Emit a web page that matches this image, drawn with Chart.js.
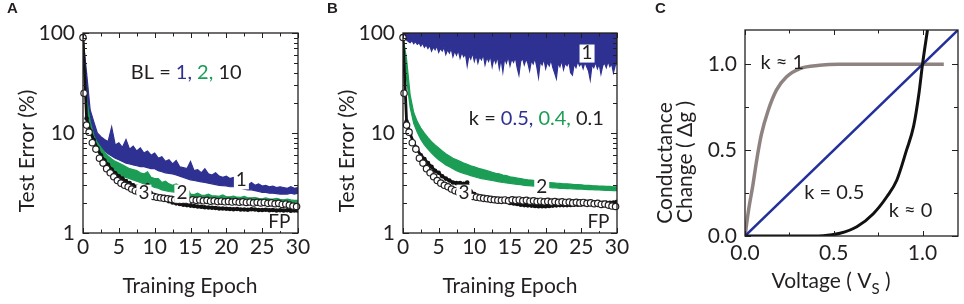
<!DOCTYPE html>
<html>
<head>
<meta charset="utf-8">
<script src="https://cdn.jsdelivr.net/npm/chart.js@4.4.1/dist/chart.umd.min.js"></script>
<style>
	body { margin: 0; background: #fff; width: 964px; height: 304px; position: relative; overflow: hidden; }
	.panel { position: absolute; top: 0; height: 304px; }
	#panelA { left: 0; width: 320px; }
	#panelB { left: 320px; width: 320px; }
	#panelC { left: 640px; width: 324px; }
</style>
</head>
<body>
<div class="panel" id="panelA"><canvas id="chartA" width="320" height="304"></canvas></div>
<div class="panel" id="panelB"><canvas id="chartB" width="320" height="304"></canvas></div>
<div class="panel" id="panelC"><canvas id="chartC" width="324" height="304"></canvas></div>
<script>
// ---- data ----
// epochs sampled every half epoch (0..30), fine grid every quarter epoch
const EPOCHS = Array.from({ length: 61 }, (_, i) => i / 2);
const EPOCHS_FINE = Array.from({ length: 121 }, (_, i) => i / 4);
const FP_EPOCHS = [0, 0.15, 0.5, 0.85].concat(Array.from({ length: 58 }, (_, i) => 1.3 + i / 2));

// floating point baseline (open circles), same in A and B
const FP_ERROR = [90, 25, 12, 10.2,
	8.0, 6.9, 5.6, 5.0, 4.4, 4.0, 3.65, 3.35, 3.15, 3.0,
	2.9, 2.75, 2.65, 2.55, 2.5, 2.42, 2.38, 2.32, 2.28, 2.25,
	2.22, 2.2, 2.17, 2.15, 2.13, 2.12, 2.14, 2.1, 2.15, 2.12,
	2.14, 2.1, 2.12, 2.08, 2.1, 2.06, 2.08, 2.05, 2.07, 2.04,
	2.06, 2.03, 2.05, 2.02, 2.04, 2.0, 2.03, 2.0, 2.02, 1.98,
	2.0, 1.96, 1.98, 1.93, 1.95, 1.9, 1.86, 1.84];

// panel A : BL = 1 (band), BL = 2 (band), BL = 10
const A_BL1_HI = [90, 40, 17, 13, 10, 9.2, 8.6, 8.2, 11.5, 7.6,
	8.0, 7.2, 8.6, 6.9, 7.4, 6.6, 7.1, 6.3, 6.6, 6.0,
	6.3, 5.6, 5.8, 5.2, 5.4, 4.9, 5.3, 4.6, 4.5, 4.4,
	5.2, 4.2, 4.3, 4.0, 4.4, 3.9, 3.8, 4.0, 3.7, 3.6,
	3.7, 3.5, 3.6, 3.4, 3.3, 3.0, 3.0, 3.2, 3.0, 3.1,
	2.95, 3.0, 2.9, 2.95, 2.85, 2.9, 2.85, 2.8, 2.9, 2.8,
	2.85];
const A_BL1_LO = [90, 25, 12, 9.5, 8.0, 7.2, 6.6, 6.2, 5.9, 5.6,
	5.4, 5.2, 5.0, 4.9, 4.8, 4.7, 4.6, 4.6, 4.5, 4.4,
	4.4, 4.2, 4.1, 4.0, 3.95, 3.9, 3.8, 3.7, 3.6, 3.5,
	3.4, 3.35, 3.3, 3.25, 3.2, 3.15, 3.1, 3.05, 3.0, 2.98,
	2.95, 2.9, 2.9, 2.85, 2.8, 2.75, 2.7, 2.7, 2.65, 2.6,
	2.55, 2.55, 2.5, 2.5, 2.48, 2.45, 2.45, 2.45, 2.5, 2.45,
	2.5];
const A_BL2_HI = [90, 22, 13, 9.5, 8.0, 7.2, 6.4, 5.9, 5.5, 5.2,
	5.0, 4.8, 4.6, 4.4, 4.3, 4.2, 4.0, 3.9, 4.1, 3.6,
	3.5, 3.5, 3.2, 3.3, 3.1, 3.0, 3.1, 2.95, 2.95, 2.9,
	2.45, 2.42, 2.5, 2.4, 2.38, 2.45, 2.35, 2.35, 2.33, 2.4,
	2.3, 2.3, 2.34, 2.28, 2.27, 2.32, 2.25, 2.25, 2.26, 2.22,
	2.2, 2.24, 2.2, 2.18, 2.22, 2.17, 2.15, 2.18, 2.14, 2.12,
	2.12];
const A_BL2_LO = [90, 15, 10, 7.8, 6.6, 5.8, 5.2, 4.8, 4.4, 4.1,
	3.9, 3.7, 3.6, 3.5, 3.4, 3.3, 3.2, 3.1, 3.0, 2.95,
	2.85, 2.8, 2.7, 2.65, 2.6, 2.58, 2.55, 2.52, 2.5, 2.48,
	2.25, 2.22, 2.2, 2.2, 2.19, 2.18, 2.17, 2.17, 2.16, 2.15,
	2.15, 2.14, 2.13, 2.12, 2.12, 2.11, 2.1, 2.1, 2.09, 2.08,
	2.08, 2.07, 2.06, 2.06, 2.05, 2.05, 2.04, 2.03, 2.03, 2.02,
	2.02];
const A_BL10 = [90, 14, 10.5, 8.5, 7.0, 6.0, 5.3, 4.8, 4.3, 3.95,
	3.7, 3.5, 3.3, 3.15, 3.0, 2.9, 2.8, 2.7, 3.0, 2.5,
	2.4, 2.3, 2.22, 2.15, 2.08, 2.02, 1.98, 1.95, 1.92, 1.9,
	1.88, 1.86, 1.84, 1.83, 1.81, 1.8, 1.79, 1.78, 1.76, 1.76,
	1.75, 1.74, 1.73, 1.74, 1.72, 1.72, 1.71, 1.73, 1.72, 1.7,
	1.7, 1.71, 1.69, 1.7, 1.68, 1.69, 1.68, 1.69, 1.67, 1.68,
	1.67];

// panel B : k = 0.5 (lower edge of band, quarter epochs), k = 0.4 (band), k = 0.1
const B_K05_LO = [
	92, 88, 85, 82,  80, 84, 78, 82,  77, 80, 74, 79,  72, 76, 70, 75,
	66, 72, 68, 74,  64, 70, 66, 72,  61, 68, 63, 70,  58, 66, 60, 67,
	56, 64, 58, 62,  47, 60, 55, 63,  52, 60, 50, 58,  54, 61, 48, 57,
	52, 59, 46, 56,  50, 58, 44, 55,  41, 56, 50, 58,  47, 55, 51, 57,
	45, 38, 52, 56,  48, 55, 50, 42,  53, 49, 56, 46,  36, 52, 48, 55,
	44, 51, 47, 54,  45, 40, 35, 50,  46, 53, 43, 50,  47, 52, 40, 38,
	49, 45, 52, 47,  50, 44, 51, 46,  42, 34, 48, 45,  51, 44, 49, 39,
	47, 50, 45, 52,  46, 49, 40, 47,  50];
const B_K04_HI = [92, 55, 24, 16, 13, 11.2, 10, 9.0, 8.2, 7.6,
	7.1, 6.6, 6.2, 5.9, 5.6, 5.4, 5.2, 5.0, 4.85, 4.7,
	4.6, 4.45, 4.35, 4.25, 4.15, 4.05, 3.95, 3.9, 3.8, 3.75,
	3.65, 3.6, 3.55, 3.5, 3.45, 3.4, 3.38, 3.35, 3.3, 3.25,
	3.22, 3.2, 3.18, 3.15, 3.13, 3.1, 3.1, 3.08, 3.05, 3.05,
	3.03, 3.0, 3.0, 2.98, 2.97, 2.95, 2.95, 2.93, 2.92, 2.9,
	2.9];
const B_K04_LO = [88, 35, 18, 12.5, 10.2, 8.6, 7.6, 6.9, 6.3, 5.8,
	5.4, 5.1, 4.8, 4.6, 4.4, 4.2, 4.05, 3.95, 3.85, 3.75,
	3.65, 3.57, 3.5, 3.45, 3.4, 3.35, 3.3, 3.25, 3.2, 3.17,
	3.13, 3.1, 3.07, 3.04, 3.0, 2.98, 2.96, 2.94, 2.92, 2.9,
	2.87, 2.85, 2.83, 2.82, 2.8, 2.79, 2.78, 2.77, 2.76, 2.75,
	2.75, 2.73, 2.72, 2.71, 2.7, 2.69, 2.68, 2.67, 2.66, 2.65,
	2.65];
const B_K01 = [90, 13, 9.8, 8.0, 6.8, 6.0, 5.5, 5.0, 4.6, 4.2,
	4.0, 3.7, 3.5, 3.35, 3.2, 3.15, 3.15, 3.1, 3.2, 2.6,
	2.45, 2.35, 2.3, 2.25, 2.2, 2.17, 2.15, 2.12, 2.1, 2.05,
	2.0, 1.97, 1.95, 1.92, 1.9, 1.89, 1.88, 1.86, 1.85, 1.85,
	1.85, 1.86, 1.88, 1.89, 1.9, 1.9, 1.9, 1.91, 1.92, 1.92,
	1.93, 1.94, 1.95, 1.96, 1.97, 1.98, 2.0, 2.0, 2.0, 2.02,
	2.05];

// panel C : conductance change vs voltage
const C_K1_V = [0, 0.02, 0.045, 0.064, 0.092, 0.13, 0.177, 0.233, 0.31, 0.42, 0.53, 1.12];
const C_K1_G = [0, 0.15, 0.30, 0.43, 0.59, 0.73, 0.85, 0.926, 0.975, 0.994, 1.0, 1.0];
const C_K05_V = [0, 1.2];
const C_K05_G = [0, 1.2];
const C_K0_V = [0, 0.3, 0.44, 0.535, 0.63, 0.723, 0.8, 0.855, 0.91, 0.95, 0.98, 1.0, 1.028];
const C_K0_G = [0, 0, 0.002, 0.016, 0.054, 0.13, 0.23, 0.325, 0.5, 0.64, 0.83, 1.0, 1.2];

// tick marks
const EPOCH_TICKS = [0, 2.5, 5, 7.5, 10, 12.5, 15, 17.5, 20, 22.5, 25, 27.5, 30];
const EPOCH_MAJOR = [0, 5, 10, 15, 20, 25, 30];
const LOG_TICKS = [1, 2, 3, 4, 5, 6, 7, 8, 9, 10, 20, 30, 40, 50, 60, 70, 80, 90, 100];
const LOG_MAJOR = [1, 10, 100];
const C_TICKS = [0, 0.25, 0.5, 0.75, 1.0];
const C_MAJOR = [0, 0.5, 1.0];

// ---- styles ----
const FONT = "Lato, 'Open Sans', sans-serif";
const LETTER_FONT = "'Liberation Sans', Arial, sans-serif";
const INK = "#231f20";
const BLUE = "#2e3192";
const GREEN = "#1b9d55";
const GRAY = "#8e8381";
const BLUE_C = "#23309a";

const xy = (xs, ys) => ys.map((y, i) => ({ x: xs[i], y }));

// рамка с внутренними засечками по всем четырём сторонам
function framePlugin(xTicks, xMajor, yTicks, yMajor) {
	return {
		id: "frame",
		afterDraw(chart) {
			const { ctx, chartArea: a, scales } = chart;
			ctx.save();
			ctx.strokeStyle = INK;
			ctx.lineWidth = 1.3;
			ctx.strokeRect(a.left, a.top, a.right - a.left, a.bottom - a.top);
			ctx.lineWidth = 1;
			ctx.beginPath();
			xTicks.forEach((v) => {
				const p = Math.round(scales.x.getPixelForValue(v)) + 0.5;
				const len = xMajor.includes(v) ? 5 : 3.5;
				ctx.moveTo(p, a.bottom); ctx.lineTo(p, a.bottom - len);
				ctx.moveTo(p, a.top); ctx.lineTo(p, a.top + len);
			});
			yTicks.forEach((v) => {
				const p = Math.round(scales.y.getPixelForValue(v)) + 0.5;
				const len = yMajor.includes(v) ? 6 : 4;
				ctx.moveTo(a.left, p); ctx.lineTo(a.left + len, p);
				ctx.moveTo(a.right, p); ctx.lineTo(a.right - len, p);
			});
			ctx.stroke();
			ctx.restore();
		},
	};
}

// подписи: текст из цветных кусков, по данным (at) или по пикселям (px, py)
function notesPlugin(items) {
	return {
		id: "notes",
		afterDraw(chart) {
			const ctx = chart.ctx;
			const { x: xs, y: ys } = chart.scales;
			items.forEach((item) => {
				let px = item.px;
				let py = item.py;
				if (item.at) {
					px = xs.getPixelForValue(item.at[0]);
					py = ys.getPixelForValue(item.at[1]);
				}
				const size = item.size || 20;
				const weight = item.bold ? "bold " : "";
				const family = item.family || FONT;
				const fontFor = (p) => weight + (p.sub ? Math.round(size * 0.7) : size) + "px " + family;
				ctx.save();
				ctx.translate(px, py);
				if (item.rotate) ctx.rotate(item.rotate);
				ctx.textBaseline = item.baseline || "middle";
				ctx.textAlign = "left";
				const widths = item.parts.map((p) => {
					ctx.font = fontFor(p);
					return ctx.measureText(p.text).width;
				});
				const total = widths.reduce((s, w) => s + w, 0);
				let x0 = item.align === "left" ? 0 : -total / 2;
				if (item.box) {
					ctx.fillStyle = "#fff";
					ctx.fillRect(x0 - 2, -size * 0.45, total + 4, size * 0.95);
				}
				item.parts.forEach((p, i) => {
					ctx.font = fontFor(p);
					ctx.fillStyle = p.color || INK;
					ctx.fillText(p.text, x0, p.sub ? size * 0.3 : 0);
					x0 += widths[i];
				});
				ctx.restore();
			});
		},
	};
}

function epochOptions(padRight) {
	return {
		responsive: false,
		animation: false,
		layout: { padding: { top: 33, right: padRight, left: 0, bottom: 0 } },
		plugins: { legend: { display: false }, tooltip: { enabled: false } },
		scales: {
			x: {
				type: "linear", min: 0, max: 30,
				ticks: { stepSize: 5, maxRotation: 0, padding: 2, color: INK, font: { family: FONT, size: 21 } },
				grid: { display: false, drawTicks: false },
				border: { display: false },
				afterFit(s) { s.height = 71; },
			},
			y: {
				type: "logarithmic", min: 1, max: 100,
				ticks: {
					autoSkip: false, padding: 8, color: INK, font: { family: FONT, size: 21 },
					callback: (v) => (LOG_MAJOR.includes(v) ? String(v) : ""),
				},
				grid: { display: false, drawTicks: false },
				border: { display: false },
				afterFit(s) { s.width = 83; },
			},
		},
	};
}

function fpDataset() {
	return {
		label: "FP", data: xy(FP_EPOCHS, FP_ERROR), showLine: false, clip: false,
		pointRadius: 3.2, pointBorderWidth: 1.2, pointBackgroundColor: "#fff", pointBorderColor: INK,
	};
}

function blackDataset(label, values) {
	return {
		label, data: xy(EPOCHS, values), borderColor: "#111", borderWidth: 2.8,
		pointRadius: 2.3, pointBorderWidth: 0, pointBackgroundColor: "#111",
	};
}

function bandDataset(label, xs, values, color, fill) {
	return {
		label, data: xy(xs, values), borderColor: color, borderWidth: 1.2,
		pointRadius: 0, fill: fill, backgroundColor: color,
	};
}

const axisTitles = (letter) => [
	{ px: 7, py: 13, parts: [{ text: letter }], size: 15, bold: true, family: LETTER_FONT, align: "left", baseline: "alphabetic" },
	{ px: 34, py: 151, rotate: -Math.PI / 2, baseline: "alphabetic", size: 21, parts: [{ text: "Test Error (%)" }] },
	{ px: 190, py: 293, baseline: "alphabetic", size: 21, parts: [{ text: "Training Epoch" }] },
];

// ---- panel A ----
new Chart(document.getElementById("chartA"), {
	type: "line",
	data: {
		datasets: [
			fpDataset(),
			blackDataset("BL = 10", A_BL10),
			bandDataset("BL = 2 upper", EPOCHS, A_BL2_HI, GREEN, "+1"),
			bandDataset("BL = 2 lower", EPOCHS, A_BL2_LO, GREEN, false),
			bandDataset("BL = 1 upper", EPOCHS, A_BL1_HI, BLUE, "+1"),
			bandDataset("BL = 1 lower", EPOCHS, A_BL1_LO, BLUE, false),
		],
	},
	options: epochOptions(22),
	plugins: [
		framePlugin(EPOCH_TICKS, EPOCH_MAJOR, LOG_TICKS, LOG_MAJOR),
		notesPlugin(axisTitles("A").concat([
			{ at: [14.4, 40.5], size: 20, parts: [{ text: "BL = " }, { text: "1,", color: BLUE }, { text: " 2,", color: GREEN }, { text: " 10" }] },
			{ at: [22.1, 3.4], size: 19, box: true, parts: [{ text: "1" }] },
			{ at: [13.8, 2.5], size: 19, box: true, parts: [{ text: "2" }] },
			{ at: [8.5, 2.5], size: 19, box: true, parts: [{ text: "3" }] },
			{ at: [27.4, 1.3], size: 19, box: true, parts: [{ text: "FP" }] },
		])),
	],
});

// ---- panel B ----
new Chart(document.getElementById("chartB"), {
	type: "line",
	data: {
		datasets: [
			fpDataset(),
			blackDataset("k = 0.1", B_K01),
			bandDataset("k = 0.4 upper", EPOCHS, B_K04_HI, GREEN, "+1"),
			bandDataset("k = 0.4 lower", EPOCHS, B_K04_LO, GREEN, false),
			bandDataset("k = 0.5", EPOCHS_FINE, B_K05_LO, BLUE, "end"),
		],
	},
	options: epochOptions(23),
	plugins: [
		framePlugin(EPOCH_TICKS, EPOCH_MAJOR, LOG_TICKS, LOG_MAJOR),
		notesPlugin(axisTitles("B").concat([
			{ at: [18.7, 14], size: 20, parts: [{ text: "k = " }, { text: "0.5,", color: BLUE }, { text: " 0.4,", color: GREEN }, { text: " 0.1" }] },
			{ at: [25.8, 63], size: 19, box: true, parts: [{ text: "1" }] },
			{ at: [19.45, 2.9], size: 19, box: true, parts: [{ text: "2" }] },
			{ at: [8.55, 2.5], size: 19, box: true, parts: [{ text: "3" }] },
			{ at: [27.4, 1.3], size: 19, box: true, parts: [{ text: "FP" }] },
		])),
	],
});

// ---- panel C ----
new Chart(document.getElementById("chartC"), {
	type: "line",
	data: {
		datasets: [
			{ label: "k ≈ 0", data: xy(C_K0_V, C_K0_G), borderColor: "#111", borderWidth: 3, pointRadius: 0, cubicInterpolationMode: "monotone" },
			{ label: "k = 0.5", data: xy(C_K05_V, C_K05_G), borderColor: BLUE_C, borderWidth: 2.5, pointRadius: 0 },
			{ label: "k ≈ 1", data: xy(C_K1_V, C_K1_G), borderColor: GRAY, borderWidth: 3.5, pointRadius: 0, cubicInterpolationMode: "monotone" },
		],
	},
	options: {
		responsive: false,
		animation: false,
		layout: { padding: { top: 30, right: 6, left: 0, bottom: 0 } },
		plugins: { legend: { display: false }, tooltip: { enabled: false } },
		scales: {
			x: {
				type: "linear", min: 0, max: 1.2,
				ticks: {
					stepSize: 0.5, includeBounds: false, maxRotation: 0, padding: 5, color: INK,
					font: { family: FONT, size: 21 }, callback: (v) => v.toFixed(1),
				},
				grid: { display: false, drawTicks: false },
				border: { display: false },
				afterFit(s) { s.height = 68; },
			},
			y: {
				type: "linear", min: 0, max: 1.2,
				ticks: {
					stepSize: 0.5, includeBounds: false, padding: 8, color: INK,
					font: { family: FONT, size: 21 }, callback: (v) => v.toFixed(1),
				},
				grid: { display: false, drawTicks: false },
				border: { display: false },
				afterFit(s) { s.width = 105; },
			},
		},
	},
	plugins: [
		framePlugin(C_TICKS, C_MAJOR, C_TICKS, C_MAJOR),
		notesPlugin([
			{ px: 15, py: 13, parts: [{ text: "C" }], size: 15, bold: true, family: LETTER_FONT, align: "left", baseline: "alphabetic" },
			{ px: 32, py: 163, rotate: -Math.PI / 2, baseline: "alphabetic", size: 21, parts: [{ text: "Conductance" }] },
			{ px: 52, py: 162, rotate: -Math.PI / 2, baseline: "alphabetic", size: 21, parts: [{ text: "Change ( Δg )" }] },
			{ px: 191, py: 288, baseline: "alphabetic", size: 21, parts: [{ text: "Voltage ( V" }, { text: "S", sub: true }, { text: " )" }] },
			{ at: [0.21, 1.01], size: 20, parts: [{ text: "k ≈ 1" }] },
			{ at: [0.503, 0.252], size: 20, parts: [{ text: "k = 0.5" }] },
			{ at: [0.932, 0.147], size: 20, parts: [{ text: "k ≈ 0" }] },
		]),
	],
});
</script>
</body>
</html>
